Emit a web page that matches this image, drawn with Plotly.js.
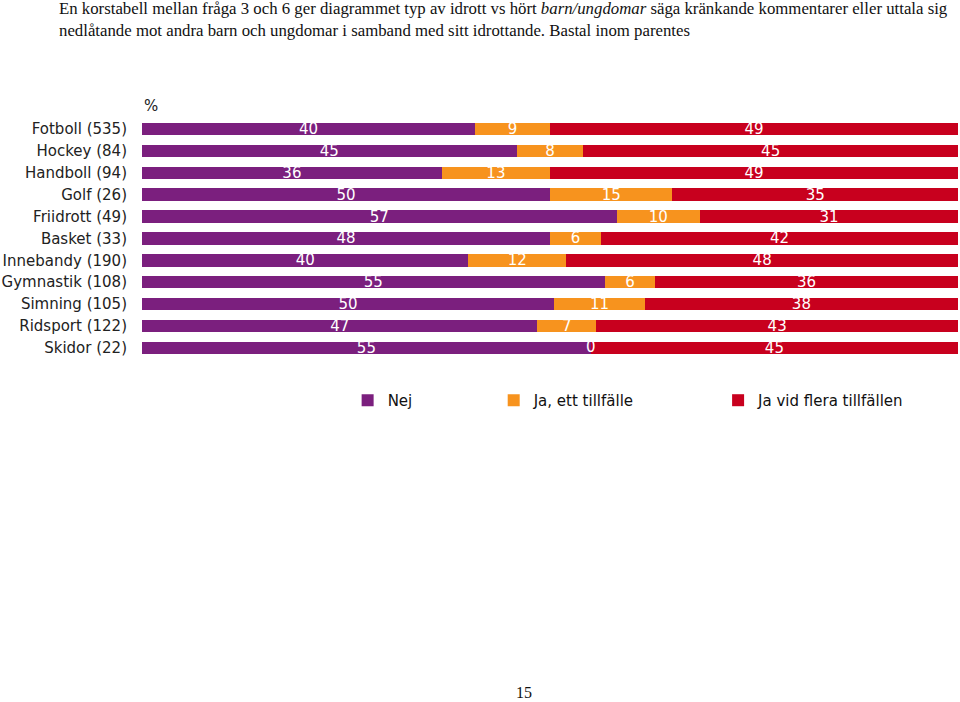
<!DOCTYPE html>
<html>
<head>
<meta charset="utf-8">
<script src="https://cdn.plot.ly/plotly-3.0.1.min.js"></script>
<style>
html,body{margin:0;padding:0;background:#fff;}
#chart{width:960px;height:702px;}
</style>
</head>
<body>
<div id="chart"></div>
<script>
const categories = ["Fotboll (535)","Hockey (84)","Handboll (94)","Golf (26)","Friidrott (49)","Basket (33)","Innebandy (190)","Gymnastik (108)","Simning (105)","Ridsport (122)","Skidor (22)"];
const nej = [40,45,36,50,57,48,40,55,50,47,55];
const jaEtt = [9,8,13,15,10,6,12,6,11,7,0];
const jaFlera = [49,45,49,35,31,42,48,36,38,43,45];
const seriesNames = ["Nej","Ja, ett tillfälle","Ja vid flera tillfällen"];
const colors = ["#7b1f7e","#f7931e","#c8001e"];

const FONT = "DejaVu Sans, Verdana, sans-serif";
const SERIF = "Liberation Serif, Times New Roman, serif";
const seriesData = [nej, jaEtt, jaFlera];
const legends = ["legend","legend2","legend3"];

const traces = seriesData.map((vals, i) => ({
  type: "bar",
  orientation: "h",
  name: seriesNames[i],
  y: categories,
  x: vals,
  text: vals.map(String),
  textposition: "inside",
  insidetextanchor: "middle",
  textangle: 0,
  constraintext: "none",
  textfont: {family: FONT, size: 15, color: "#ffffff"},
  marker: {color: colors[i], line: {width: 0}},
  hoverinfo: "none",
  legend: legends[i]
}));

// Labels for zero-width segments (bar text is not drawn for empty bars):
// placed at the segment's normalized position on the x axis.
const zeroX = [], zeroY = [], zeroT = [];
categories.forEach((c, k) => {
  const total = nej[k] + jaEtt[k] + jaFlera[k];
  let cum = 0;
  seriesData.forEach(vals => {
    if (vals[k] === 0) {
      zeroX.push(cum / total * 100);
      zeroY.push(c);
      zeroT.push("0");
    }
    cum += vals[k];
  });
});
traces.push({
  type: "scatter", mode: "text", x: zeroX, y: zeroY, text: zeroT,
  textposition: "middle center",
  textfont: {family: FONT, size: 15, color: "#ffffff"},
  showlegend: false, hoverinfo: "none", cliponaxis: false
});

const legendBase = {
  orientation: "h",
  yref: "paper",
  y: -0.099,
  yanchor: "top",
  xanchor: "left",
  bgcolor: "rgba(0,0,0,0)",
  font: {family: FONT, size: 15, color: "#111"}
};

const layout = {
  width: 960,
  height: 702,
  margin: {l: 142, r: 2, t: 118, b: 342},
  paper_bgcolor: "#fff",
  plot_bgcolor: "#fff",
  barmode: "stack",
  barnorm: "percent",
  bargap: 0.43,
  showlegend: true,
  xaxis: {range: [0, 100], visible: false, fixedrange: true},
  yaxis: {
    type: "category",
    autorange: "reversed",
    showgrid: false, zeroline: false, showline: false,
    ticks: "", ticklabelstandoff: 14,
    tickfont: {family: FONT, size: 15, color: "#222"},
    fixedrange: true
  },
  legend: Object.assign({}, legendBase, {x: 0.252}),
  legend2: Object.assign({}, legendBase, {x: 0.431}),
  legend3: Object.assign({}, legendBase, {x: 0.706}),
  annotations: [
    {text: "En korstabell mellan fråga 3 och 6 ger diagrammet typ av idrott vs hört <i>barn/ungdomar</i> säga kränkande kommentarer eller uttala sig<br>nedlåtande mot andra barn och ungdomar i samband med sitt idrottande. Bastal inom parentes",
     xref: "paper", yref: "paper", x: (57-142)/816, y: (360+3)/242, xanchor: "left", yanchor: "top", align: "left",
     showarrow: false, font: {family: SERIF, size: 16.8, color: "#111"}},
    {text: "%", xref: "paper", yref: "paper", x: 0, y: 1, xanchor: "left", yanchor: "bottom", yshift: 1, showarrow: false,
     font: {family: FONT, size: 15, color: "#222"}},
    {text: "15", xref: "paper", yref: "paper", x: (524-142)/816, y: (360-692)/242, xanchor: "center", yanchor: "middle", showarrow: false,
     font: {family: SERIF, size: 16, color: "#111"}}
  ]
};

Plotly.newPlot("chart", traces, layout, {displayModeBar: false, staticPlot: true});
</script>
</body>
</html>
